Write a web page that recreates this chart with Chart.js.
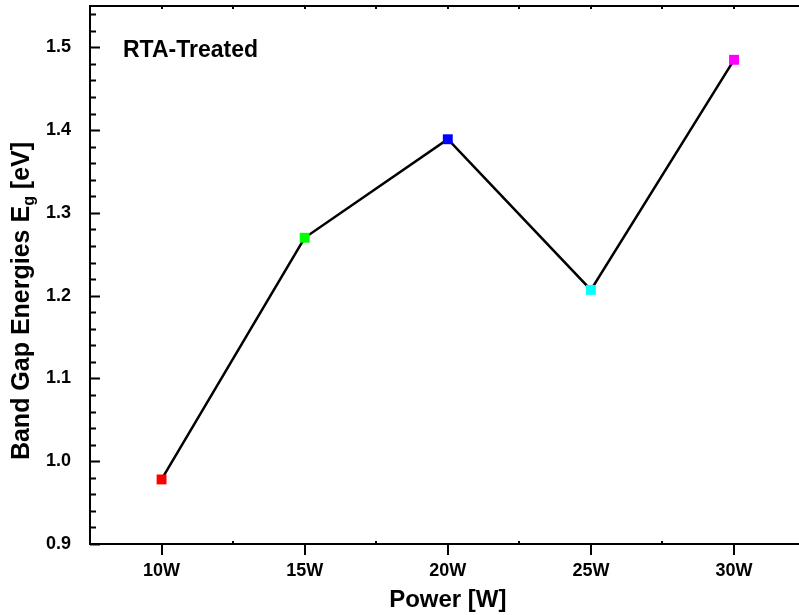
<!DOCTYPE html>
<html>
<head>
<meta charset="utf-8">
<script src="https://cdn.jsdelivr.net/npm/chart.js@4"></script>
<style>
  html, body { margin: 0; padding: 0; background: #fff; }
  #wrap { width: 799px; height: 615px; }
</style>
</head>
<body>
<div id="wrap"><canvas id="bandGapChart" width="799" height="615"></canvas></div>
<script>
const powers = [10, 15, 20, 25, 30];
const bandGap = [0.978, 1.27, 1.389, 1.207, 1.485];
const pointColors = ['#ff0000', '#00ff00', '#0000ff', '#00ffff', '#ff00ff'];
const xTicks = [10, 15, 20, 25, 30];
const xMinorTicks = [7.5, 12.5, 17.5, 22.5, 27.5, 32.5];
const yTicks = [0.9, 1.0, 1.1, 1.2, 1.3, 1.4, 1.5];

const FONT = '"Liberation Sans", Arial, sans-serif';

// ticks drawn inward/outward like the original plot
const axisDecor = {
  id: 'axisDecor',
  afterDraw(chart) {
    const ctx = chart.ctx;
    const a = chart.chartArea;
    const x = chart.scales.x;
    const y = chart.scales.y;
    ctx.save();
    ctx.strokeStyle = '#000';
    ctx.lineWidth = 2;

    // top frame line
    ctx.beginPath();
    ctx.moveTo(a.left, a.top);
    ctx.lineTo(a.right, a.top);
    ctx.stroke();

    // y ticks (inward)
    for (let v = 0.9; v <= 1.551; v += 0.02) {
      const py = Math.round(y.getPixelForValue(v)) + 0.5;
      const major = Math.abs(v * 10 - Math.round(v * 10)) < 0.01;
      ctx.beginPath();
      ctx.moveTo(a.left, py);
      ctx.lineTo(a.left + (major ? 10 : 6), py);
      ctx.stroke();
    }

    // x major ticks (outward), minor small inward
    xTicks.forEach(v => {
      const px = Math.round(x.getPixelForValue(v));
      ctx.beginPath();
      ctx.moveTo(px, a.bottom);
      ctx.lineTo(px, a.bottom + 11);
      ctx.stroke();
      ctx.beginPath();
      ctx.moveTo(px, a.top);
      ctx.lineTo(px, a.top + 3);
      ctx.stroke();
    });
    xMinorTicks.forEach(v => {
      const px = Math.round(x.getPixelForValue(v));
      ctx.beginPath();
      ctx.moveTo(px, a.bottom);
      ctx.lineTo(px, a.bottom - 3);
      ctx.stroke();
      ctx.beginPath();
      ctx.moveTo(px, a.top);
      ctx.lineTo(px, a.top + 3);
      ctx.stroke();
    });

    ctx.fillStyle = '#000';

    // annotation
    ctx.font = 'bold 23px ' + FONT;
    ctx.textAlign = 'left';
    ctx.textBaseline = 'middle';
    ctx.fillText('RTA-Treated', a.left + 33, y.getPixelForValue(1.5) + 3);

    // x title
    ctx.font = 'bold 24px ' + FONT;
    ctx.textAlign = 'center';
    ctx.fillText('Power [W]', x.getPixelForValue(20), 600);

    // y title with subscript g
    const main = 'Band Gap Energies E';
    const sub = 'g';
    const tail = ' [eV]';
    const bigFont = 'bold 25px ' + FONT;
    const smallFont = 'bold 16px ' + FONT;
    ctx.font = bigFont;
    const w1 = ctx.measureText(main).width;
    const w3 = ctx.measureText(tail).width;
    ctx.font = smallFont;
    const w2 = ctx.measureText(sub).width;
    const total = w1 + w2 + w3;
    ctx.translate(22, 301);
    ctx.rotate(-Math.PI / 2);
    ctx.textAlign = 'left';
    let cx = -total / 2;
    ctx.font = bigFont;
    ctx.fillText(main, cx, 0);
    cx += w1;
    ctx.font = smallFont;
    ctx.fillText(sub, cx, 8);
    cx += w2;
    ctx.font = bigFont;
    ctx.fillText(tail, cx, 0);
    ctx.restore();
  }
};

new Chart(document.getElementById('bandGapChart').getContext('2d'), {
  type: 'line',
  data: {
    datasets: [{
      label: 'RTA-Treated',
      data: powers.map((p, i) => ({ x: p, y: bandGap[i] })),
      borderColor: '#000',
      borderWidth: 2.5,
      tension: 0,
      pointStyle: 'rect',
      pointRadius: 7,
      pointHoverRadius: 7,
      pointBorderWidth: 0,
      pointBackgroundColor: pointColors
    }]
  },
  options: {
    responsive: false,
    animation: false,
    layout: { autoPadding: false, padding: { top: 6, right: 0, left: 0, bottom: 0 } },
    plugins: {
      legend: { display: false },
      tooltip: { enabled: false }
    },
    scales: {
      x: {
        type: 'linear',
        min: 7.5,
        max: 32.27,
        grid: { display: false },
        border: { display: true, color: '#000', width: 2 },
        afterBuildTicks: s => { s.ticks = xTicks.map(v => ({ value: v })); },
        afterFit: s => {
          s.height = 71;
          s.paddingLeft = 0;
          s.paddingRight = 0;
        },
        ticks: {
          padding: 8,
          maxRotation: 0,
          color: '#000',
          font: { family: FONT, size: 18, weight: 'bold' },
          callback: v => v + 'W'
        }
      },
      y: {
        min: 0.9,
        max: 1.55,
        grid: { display: false },
        border: { display: true, color: '#000', width: 2 },
        afterBuildTicks: s => { s.ticks = yTicks.map(v => ({ value: v })); },
        afterFit: s => {
          s.width = 90;
          s.paddingTop = 0;
          s.paddingBottom = 0;
        },
        ticks: {
          padding: 11,
          color: '#000',
          font: { family: FONT, size: 18, weight: 'bold' },
          callback: v => v.toFixed(1)
        }
      }
    }
  },
  plugins: [axisDecor]
});
</script>
</body>
</html>
